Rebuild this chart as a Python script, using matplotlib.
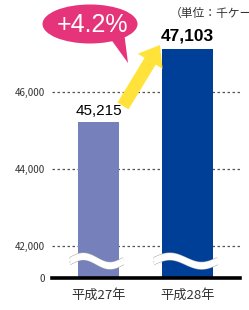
#!/usr/bin/env python3
"""平成27年/28年 出荷量の比較（縦棒・省略軸）。"""
import matplotlib

matplotlib.use("Agg")
import matplotlib.pyplot as plt
import numpy as np
from matplotlib.patches import Ellipse, Polygon, FancyArrow
import matplotlib.patheffects as pe

plt.rcParams["font.family"] = ["Noto Sans CJK JP", "DejaVu Sans"]

years = ["平成27年", "平成28年"]
values = [45215, 47103]
value_labels = ["45,215", "47,103"]
yticks = [42000, 44000, 46000]
ytick_labels = ["42,000", "44,000", "46,000"]
growth_label = "+4.2%"
unit_label = "（単位：千ケース）"

BAR_COLORS = ["#7680bb", "#003f98"]
BAR_WIDTHS = [0.46, 0.575]
PINK = "#e6347a"
YELLOW = "#ffe33a"

# 省略軸: 0 を 42,000 の下に詰めて表示する
Y_ZERO = 41161
Y_TOP = 48380

W, H = 249, 310
fig = plt.figure(figsize=(W / 100, H / 100), dpi=100)
ax = fig.add_axes([52 / W, (H - 278) / H, (240 - 52) / W, 278 / H])
ax.set_xlim(-0.522, 1.59)
ax.set_ylim(Y_ZERO, Y_TOP)
for s in ax.spines.values():
    s.set_visible(False)

x = np.arange(len(years))
for yv in yticks:
    ax.axhline(yv, color="#555555", lw=0.9, ls=(0, (2, 2)), zorder=1)
ax.bar(x, [v - Y_ZERO for v in values], bottom=Y_ZERO, width=BAR_WIDTHS,
       color=BAR_COLORS, zorder=2)
ax.axhline(Y_ZERO, color="black", lw=2.6, zorder=3, clip_on=False)

ax.set_yticks([Y_ZERO] + yticks, ["0"] + ytick_labels)
ax.tick_params(axis="y", length=0, pad=5, labelsize=7, labelcolor="#333333")
ax.set_xticks(x, years)
ax.tick_params(axis="x", length=0, pad=8, labelsize=9.5, labelcolor="#333333")

# 省略記号の波線
wy = 41600
for xi, w in zip(x, BAR_WIDTHS):
    xs = np.linspace(xi - w / 2 - 0.09, xi + w / 2 + 0.05, 80)
    ph = (xs - xs[0]) / (xs[-1] - xs[0]) * 2 * np.pi
    for off in (60, -60):
        ax.plot(xs, wy + off + 120 * np.sin(ph), color="white", lw=1.6,
                zorder=4, solid_capstyle="butt",
                path_effects=[pe.Stroke(linewidth=2.4, foreground="#aaaaaa"),
                              pe.Normal()])
    ax.fill_between(xs, wy - 60 + 120 * np.sin(ph), wy + 60 + 120 * np.sin(ph),
                    color="white", zorder=4, lw=0)

ax.text(x[0], values[0] + 100, value_labels[0], ha="center", va="bottom",
        fontsize=11, family="Liberation Sans")
ax.text(x[1], values[1] + 150, value_labels[1], ha="center", va="bottom",
        fontsize=12.5, fontweight="bold", family="Liberation Sans")

# 装飾（ピクセル座標）
ov = fig.add_axes([0, 0, 1, 1], facecolor="none")
ov.set_xlim(0, W)
ov.set_ylim(H, 0)
ov.axis("off")
ov.add_patch(FancyArrow(123, 106, 37, -61, width=13, head_width=29,
                        head_length=19, length_includes_head=True,
                        color=YELLOW, lw=0, zorder=5))
ov.add_patch(Polygon([[110, 38], [124, 32], [128, 63]], closed=True,
                     color=PINK, lw=0, zorder=6))
ov.add_patch(Ellipse((90, 24), 95, 39, color=PINK, lw=0, zorder=6))
ov.text(92, 25, growth_label, ha="center", va="center", color="white",
        fontsize=18, family="Liberation Sans", zorder=7)
ov.text(170, 13, unit_label, ha="left", va="center", fontsize=8.5,
        color="#333333")

fig.savefig("out.png", dpi=100)
